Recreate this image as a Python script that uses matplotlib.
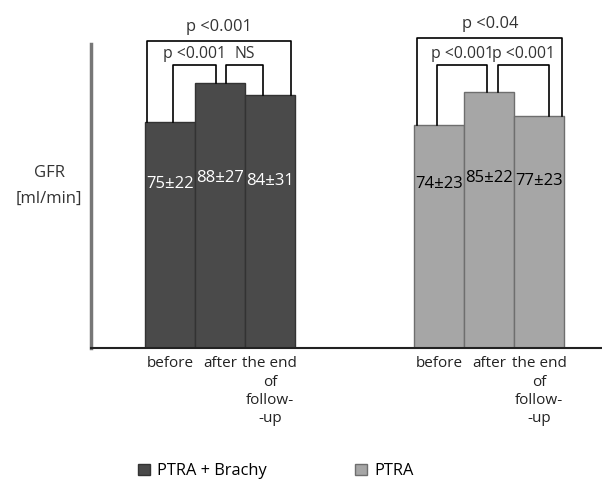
import matplotlib
matplotlib.use('Agg')
import matplotlib.pyplot as plt
from matplotlib.patches import Patch

plt.rcParams['font.family'] = ['Open Sans', 'DejaVu Sans']

categories = ['before', 'after', 'the end\nof\nfollow-\n-up']
brachy_means = [75, 88, 84]
brachy_sd = [22, 27, 31]
ptra_means = [74, 85, 77]
ptra_sd = [23, 22, 23]
series_names = ['PTRA + Brachy', 'PTRA']

# (bar a, bar b, label, level) ; level 0 = inner, 1 = outer
brachy_tests = [(0, 1, 'p <0.001', 0), (1, 2, 'NS', 0), (0, 2, 'p <0.001', 1)]
ptra_tests = [(0, 1, 'p <0.001', 0), (1, 2, 'p <0.001', 0), (0, 2, 'p <0.04', 1)]

dark = '#4a4a4a'
light = '#a6a6a6'

fig = plt.figure(figsize=(6.02, 4.79), dpi=100)
ax = fig.add_axes([0.151, 0.2735, 0.849, 0.6347])

x1 = [0, 1, 2]
x2 = [5.38, 6.38, 7.38]

ax.bar(x1, brachy_means, width=1.0, color=dark, edgecolor='#333333', linewidth=1)
ax.bar(x2, ptra_means, width=1.0, color=light, edgecolor='#6e6e6e', linewidth=1)

label_y = [54.5, 56.5, 55.5]
for x, m, s, ly in zip(x1, brachy_means, brachy_sd, label_y):
    ax.text(x, ly, f'{m}±{s}', ha='center', va='center', color='white',
            fontsize=12)
for x, m, s, ly in zip(x2, ptra_means, ptra_sd, label_y):
    ax.text(x, ly, f'{m}±{s}', ha='center', va='center', color='black',
            fontsize=12)


def draw_brackets(xs, means, tests, outer_top, legs):
    for (a, b, lab, lvl), (da, db) in zip(tests, legs):
        top = outer_top if lvl == 1 else 94
        xa = xs[a] + da
        xb = xs[b] + db
        ax.plot([xa, xa, xb, xb], [means[a], top, top, means[b]],
                color='black', lw=1.2, clip_on=False)
        ty = top + 4.7 if lvl == 1 else top + 3.6
        fs = 11.8 if lvl == 1 else 11.3
        ax.text((xa + xb) / 2, ty, lab, ha='center', va='center',
                fontsize=fs, color='#333333', clip_on=False)


draw_brackets(x1, brachy_means, brachy_tests, 102,
              [(0.06, -0.07), (0.13, -0.13), (-0.46, 0.42)])
draw_brackets(x2, ptra_means, ptra_tests, 103,
              [(-0.03, -0.03), (0.19, 0.21), (-0.43, 0.47)])

ax.set_xlim(-1.58, 8.64)
ax.set_ylim(0, 101)
ax.set_xticks(x1 + x2)
ax.set_xticklabels(categories * 2, fontsize=11, color='#222222',
                   linespacing=1.3)
ax.tick_params(axis='x', length=0, pad=6)
ax.set_yticks([])
ax.spines['top'].set_visible(False)
ax.spines['right'].set_visible(False)
ax.spines['left'].set_color('#777777')
ax.spines['left'].set_linewidth(2.5)
ax.spines['bottom'].set_color('#222222')
ax.spines['bottom'].set_linewidth(1.5)

fig.text(0.082, 0.612, 'GFR\n[ml/min]', ha='center', va='center',
         fontsize=12, color='#333333', linespacing=1.75)

handles = [Patch(facecolor=dark, edgecolor='#333333'),
           Patch(facecolor=light, edgecolor='#6e6e6e')]
fig.legend(handles, series_names, loc='center left',
           bbox_to_anchor=(0.205, 0.016), ncol=2, frameon=False,
           fontsize=11.8, handlelength=0.7, handleheight=0.7,
           handletextpad=0.45, columnspacing=5.4)

fig.savefig('out.png', dpi=100)
